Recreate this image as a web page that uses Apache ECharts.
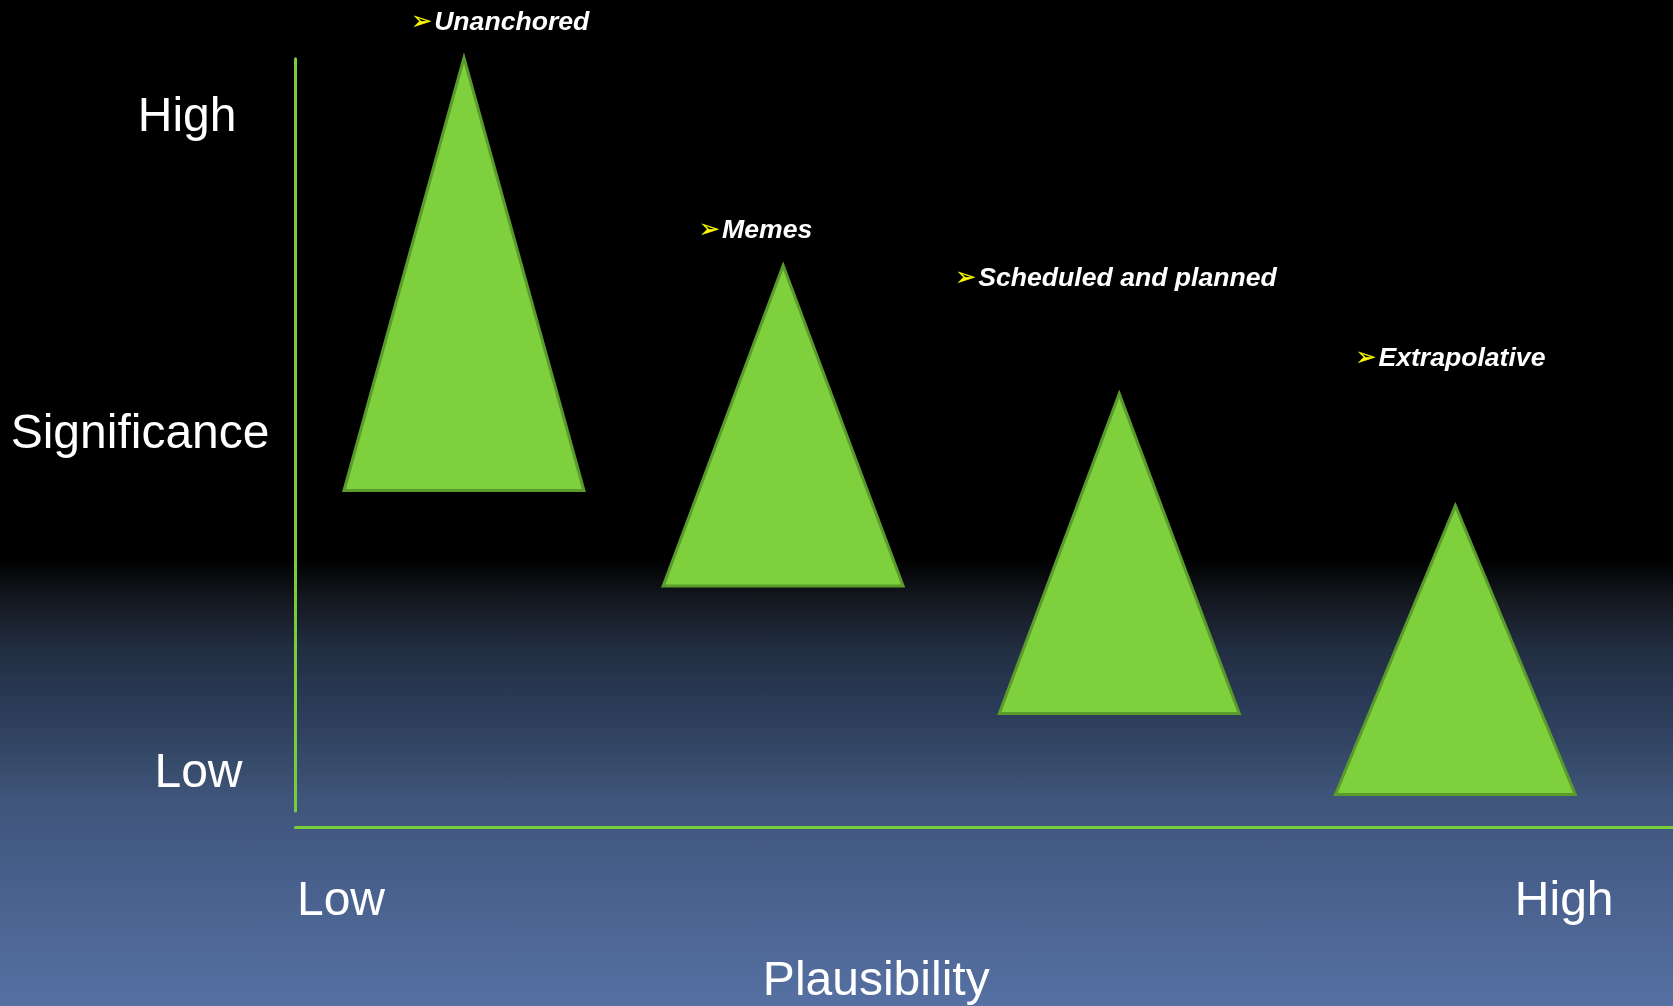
<!DOCTYPE html>
<html>
<head>
<meta charset="utf-8">
<script src="https://cdn.jsdelivr.net/npm/echarts@6/dist/echarts.min.js"></script>
<style>
html,body{margin:0;padding:0;width:100%;height:100%;overflow:hidden;background:#000}
#chart{width:1673px;height:1006px;background:linear-gradient(to bottom,#000 0%,#000 55.5%,#141820 59.6%,#222e42 64.6%,#2a3a55 69.6%,#344766 74.6%,#3f557a 79.5%,#445b85 84.5%,#4a628f 89.5%,#5570a2 100%)}
</style>
</head>
<body>
<div id="chart"></div>
<script>
// ---- data ----
const triangleNames = ['Unanchored', 'Memes', 'Scheduled and planned', 'Extrapolative'];
const plausibilityCenter = [12.23, 35.4, 59.8, 84.2];
const significanceApex = [100.1, 72.5, 55.45, 40.6];
const significanceBase = [42.6, 29.9, 12.96, 2.19];
const labelPlausibility = [8.4, 29.3, 47.9, 76.95];
const labelSignificance = [104.8, 77.17, 70.8, 60.15];
const xTickLabels = ['Low', 'High'];
const xTickValues = [3.3, 92.1];
const yTickLabels = ['Low', 'High'];
const yTickValues = [5.0, 92.2];
const xAxisTitle = 'Plausibility';
const yAxisTitle = 'Significance';

// ---- chart ----
const HALF_WIDTH = 8.71; // triangle half base, in plausibility units
const GREEN = '#7fd03d';
const GREEN_DARK = '#5a9b2c';
const AXIS_GREEN = '#79cc3a';
const FONT = '"Liberation Sans", Arial, sans-serif';

const triData = triangleNames.map((n, i) => ({
  name: n,
  value: [plausibilityCenter[i], significanceBase[i], significanceApex[i]]
}));
const labelData = triangleNames.map((n, i) => ({
  name: n,
  value: [labelPlausibility[i], labelSignificance[i]]
}));

const chart = echarts.init(document.getElementById('chart'), null, {renderer: 'canvas'});
chart.setOption({
  animation: false,
  backgroundColor: 'transparent',
  grid: [
    {left: 295.5, right: 0, top: 58.7, bottom: 195, containLabel: false, outerBoundsMode: 'none'},
    {left: 295.5, right: 0, top: 58.7, bottom: 179, containLabel: false, outerBoundsMode: 'none'}
  ],
  xAxis: [
    {gridIndex: 0, type: 'value', min: 0, max: 100, show: false},
    {
      gridIndex: 1, type: 'value', min: 0, max: 100,
      axisLine: {show: true, lineStyle: {color: AXIS_GREEN, width: 3}},
      axisTick: {show: false},
      splitLine: {show: false},
      axisLabel: {
        show: true,
        customValues: xTickValues,
        formatter: v => xTickLabels[xTickValues.indexOf(v)] || '',
        color: '#fff', fontSize: 48, fontFamily: FONT, margin: 51
      },
      name: xAxisTitle,
      nameLocation: 'middle',
      nameGap: 131,
      nameMoveOverlap: false,
      nameTextStyle: {color: '#fff', fontSize: 48, fontFamily: FONT, padding: [0, 216, 0, 0]}
    }
  ],
  yAxis: [
    {
      gridIndex: 0, type: 'value', min: 0, max: 100,
      axisLine: {show: true, lineStyle: {color: AXIS_GREEN, width: 3}},
      axisTick: {show: false},
      splitLine: {show: false},
      axisLabel: {
        show: true,
        customValues: yTickValues,
        formatter: v => {
          const t = yTickLabels[yTickValues.indexOf(v)] || '';
          return t === 'High' ? '{h|' + t + '}' : '{l|' + t + '}';
        },
        rich: {
          h: {color: '#fff', fontSize: 48, fontFamily: FONT, padding: [0, 6, 0, 0]},
          l: {color: '#fff', fontSize: 48, fontFamily: FONT}
        },
        color: '#fff', fontSize: 48, fontFamily: FONT, margin: 53
      },
      name: yAxisTitle,
      nameLocation: 'middle',
      nameRotate: 0,
      nameGap: 26,
      nameMoveOverlap: false,
      nameTextStyle: {color: '#fff', fontSize: 48, fontFamily: FONT, padding: [8, 0, 0, 0]}
    },
    {gridIndex: 1, type: 'value', min: 0, max: 100, show: false}
  ],
  series: [
    {
      type: 'custom',
      xAxisIndex: 0, yAxisIndex: 0,
      clip: false,
      data: triData,
      renderItem: function (params, api) {
        const cx = api.value(0), by = api.value(1), ay = api.value(2);
        const pL = api.coord([cx - HALF_WIDTH, by]);
        const pR = api.coord([cx + HALF_WIDTH, by]);
        const pA = api.coord([cx, ay]);
        return {
          type: 'polygon',
          shape: {points: [pL, pA, pR]},
          style: {fill: GREEN, stroke: GREEN_DARK, lineWidth: 3}
        };
      },
      silent: true
    },
    {
      type: 'scatter',
      xAxisIndex: 0, yAxisIndex: 0,
      clip: false,
      symbolSize: 0,
      silent: true,
      itemStyle: {opacity: 1},
      data: labelData,
      label: {
        show: true,
        position: 'right',
        distance: 0,
        color: '#fff',
        opacity: 1,
        formatter: p => '{a|\u27A2}{t|' + p.name + '}',
        rich: {
          a: {fontFamily: '"DejaVu Sans"', fontSize: 25, color: '#ffff00', textBorderColor: '#9a9a00', textBorderWidth: 0.5},
          t: {fontFamily: FONT, fontSize: 26.6, fontWeight: 'bold', fontStyle: 'italic', color: '#ffffff', padding: [0, 0, 0, 2]}
        }
      }
    }
  ]
});
</script>
</body>
</html>
